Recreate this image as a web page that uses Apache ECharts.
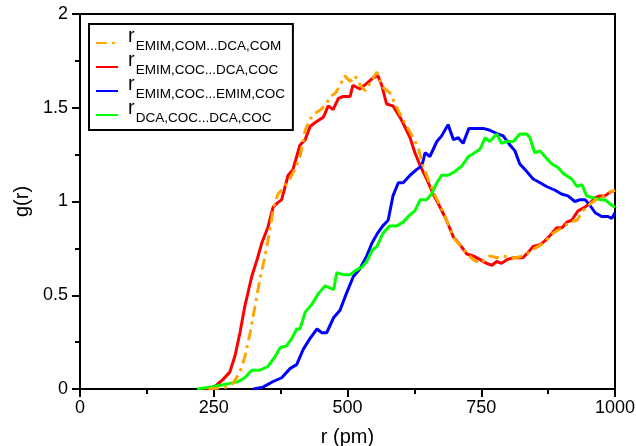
<!DOCTYPE html>
<html><head><meta charset="utf-8">
<script src="https://cdn.jsdelivr.net/npm/echarts@6/dist/echarts.min.js"></script>
<style>html,body{margin:0;padding:0;background:#fff}#c{width:636px;height:446px}</style>
</head><body><div id="c"></div>
<script>
const seriesNames = ['EMIM,COM...DCA,COM','EMIM,COC...DCA,COC','EMIM,COC...EMIM,COC','DCA,COC...DCA,COC'];
const seriesColors = ['#FFA500','#FF0000','#0000FF','#00FF00'];
const comDca = [[240,0],[262,0.005],[274,0.01],[286,0.03],[299,0.09],[308,0.17],[318,0.30],[327,0.44],[336,0.58],[346,0.71],[355,0.85],[362,0.97],[370,1.04],[380,1.07],[392,1.12],[403,1.18],[412,1.25],[421,1.38],[430,1.44],[440,1.47],[450,1.49],[460,1.52],[468,1.56],[478,1.58],[486,1.62],[495,1.67],[505,1.64],[514,1.67],[524,1.62],[533,1.59],[544,1.64],[555,1.69],[566,1.61],[579,1.58],[594,1.49],[605,1.43],[617,1.37],[632,1.29],[641,1.19],[652,1.11],[664,1.03],[676,0.96],[688,0.88],[700,0.80],[712,0.76],[724,0.72],[735,0.69],[748,0.67],[757,0.69],[766,0.71],[779,0.70],[791,0.71],[803,0.70],[815,0.70],[828,0.71],[840,0.73],[850,0.75],[862,0.77],[874,0.80],[884,0.83],[895,0.85],[905,0.87],[917,0.89],[929,0.90],[940,0.95],[950,0.98],[960,1.00],[970,1.02],[980,1.03],[990,1.05],[1000,1.06]];
const cocDca = [[230,0],[245,0.005],[255,0.02],[267,0.05],[280,0.09],[290,0.18],[299,0.30],[308,0.44],[321,0.60],[331,0.69],[340,0.78],[351,0.86],[361,0.97],[368,0.99],[377,1.01],[389,1.14],[398,1.17],[411,1.30],[421,1.33],[430,1.40],[439,1.42],[455,1.45],[464,1.51],[473,1.49],[483,1.55],[492,1.56],[505,1.56],[510,1.62],[523,1.60],[536,1.63],[548,1.66],[557,1.67],[564,1.62],[573,1.52],[585,1.51],[598,1.45],[607,1.40],[617,1.34],[626,1.26],[636,1.19],[648,1.12],[660,1.04],[673,0.97],[685,0.90],[698,0.81],[710,0.77],[723,0.72],[735,0.71],[748,0.69],[760,0.67],[770,0.66],[779,0.68],[788,0.67],[798,0.69],[810,0.70],[828,0.70],[838,0.73],[847,0.76],[860,0.77],[869,0.79],[879,0.82],[891,0.86],[901,0.86],[910,0.89],[919,0.90],[931,0.95],[944,0.97],[953,0.99],[963,1.02],[972,1.03],[981,1.03],[991,1.05],[1000,1.06]];
const cocEmim = [[324,0],[342,0.01],[361,0.04],[377,0.06],[393,0.11],[405,0.13],[417,0.21],[430,0.27],[443,0.32],[452,0.30],[461,0.30],[474,0.38],[486,0.42],[498,0.51],[511,0.60],[523,0.64],[536,0.71],[546,0.78],[556,0.83],[566,0.87],[576,0.90],[585,1.03],[595,1.10],[604,1.10],[617,1.14],[629,1.17],[639,1.19],[645,1.26],[654,1.24],[667,1.32],[676,1.35],[688,1.41],[698,1.33],[707,1.34],[716,1.31],[727,1.39],[742,1.39],[754,1.39],[766,1.38],[781,1.36],[791,1.35],[804,1.30],[813,1.27],[822,1.20],[832,1.17],[847,1.12],[860,1.10],[872,1.08],[888,1.06],[900,1.04],[912,1.03],[925,1.00],[935,1.01],[944,1.01],[953,0.98],[963,0.94],[975,0.92],[987,0.92],[994,0.91],[1000,0.94]];
const dcaDca = [[219,0],[243,0.01],[262,0.02],[280,0.03],[296,0.04],[308,0.06],[321,0.10],[336,0.10],[351,0.12],[364,0.17],[374,0.22],[386,0.23],[396,0.27],[405,0.32],[411,0.32],[421,0.41],[433,0.45],[446,0.51],[458,0.55],[474,0.53],[480,0.62],[492,0.61],[505,0.61],[514,0.63],[527,0.65],[536,0.68],[546,0.74],[555,0.76],[566,0.83],[579,0.87],[592,0.87],[604,0.89],[617,0.93],[626,0.95],[636,1.01],[648,1.01],[657,1.04],[667,1.10],[676,1.14],[688,1.14],[701,1.16],[714,1.19],[726,1.24],[738,1.26],[748,1.28],[757,1.34],[766,1.32],[779,1.36],[788,1.31],[798,1.32],[810,1.32],[822,1.36],[835,1.36],[841,1.34],[850,1.26],[860,1.27],[872,1.23],[882,1.20],[894,1.18],[903,1.15],[919,1.12],[929,1.08],[938,1.09],[947,1.03],[959,1.02],[972,1.01],[981,1.01],[994,0.98],[1000,0.97]];
const seriesData = [comDca, cocDca, cocEmim, dcaDca];

const chart = echarts.init(document.getElementById('c'), null, {renderer:'canvas'});
const FONT = '"Liberation Sans", Arial, Helvetica, sans-serif';
chart.setOption({
  animation: false,
  backgroundColor: '#fff',
  grid: {left: 80, right: 21, top: 14, bottom: 57, show: true, borderColor: '#000', borderWidth: 2, containLabel: false, outerBoundsMode: 'none'},
  legend: {
    left: 89, top: 24, orient: 'vertical',
    borderColor: '#000', borderWidth: 2, padding: [2, 8, 5, 6],
    itemWidth: 22, itemHeight: 14, itemGap: -3,
    itemStyle: {opacity: 0},
    data: seriesNames,
    formatter: n => '{r|r}{s|' + n + '}',
    textStyle: {
      fontFamily: FONT, color: '#000',
      rich: {
        r: {fontSize: 20, fontFamily: FONT, lineHeight: 20, verticalAlign: 'bottom', padding: [0, 1, 7, 5]},
        s: {fontSize: 13.5, fontFamily: FONT, lineHeight: 14, verticalAlign: 'bottom'}
      }
    }
  },
  xAxis: {
    type: 'value', min: 0, max: 1000, interval: 250,
    name: 'r (pm)', nameLocation: 'middle', nameGap: 38,
    nameTextStyle: {fontFamily: FONT, fontSize: 20, color: '#000'},
    axisLine: {lineStyle: {color: '#000', width: 2}},
    axisTick: {inside: false, length: 8, lineStyle: {color: '#000', width: 2}},
    minorTick: {show: true, splitNumber: 2, length: 5, lineStyle: {color: '#000', width: 2}},
    splitLine: {show: false},
    axisLabel: {fontFamily: FONT, fontSize: 18, color: '#000', margin: 10, formatter: v => String(v)}
  },
  yAxis: {
    type: 'value', min: 0, max: 2, interval: 0.5,
    name: 'g(r)', nameLocation: 'middle', nameGap: 48,
    nameTextStyle: {fontFamily: FONT, fontSize: 20, color: '#000'},
    axisLine: {lineStyle: {color: '#000', width: 2}},
    axisTick: {inside: false, length: 8, lineStyle: {color: '#000', width: 2}},
    minorTick: {show: true, splitNumber: 2, length: 5, lineStyle: {color: '#000', width: 2}},
    splitLine: {show: false},
    axisLabel: {fontFamily: FONT, fontSize: 18, color: '#000', margin: 12, formatter: v => String(v)}
  },
  series: seriesNames.map((n, i) => ({
    name: n, type: 'line', data: seriesData[i], symbol: 'none', smooth: false,
    z: i === 0 ? 3 : 2,
    lineStyle: {color: seriesColors[i], width: 3, type: i === 0 ? [11, 5, 3, 5] : 'solid'},
    itemStyle: {color: seriesColors[i]}
  }))
});
</script></body></html>
